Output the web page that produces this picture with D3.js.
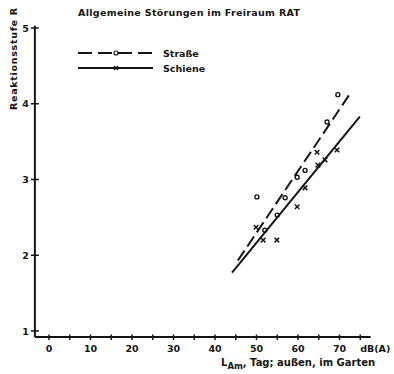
<!DOCTYPE html>
<html><head><meta charset="utf-8">
<script src="https://cdn.jsdelivr.net/npm/d3@7"></script>
<style>
body{margin:0;background:#fff;}
svg text{font-family:"DejaVu Sans",Arial,sans-serif;font-weight:bold;fill:#151515;}
</style></head>
<body><svg id="c" width="394" height="374"></svg>
<script>
const title = "Allgemeine Störungen im Freiraum RAT";
const xTicks = [0,5,10,15,20,25,30,35,40,45,50,55,60,65,70,75];
const xLabels = [0,10,20,30,40,50,60,70];
const yTicks = [1,2,3,4,5];
const seriesNames = ["Straße","Schiene"];
const strasseX = [50.1,52.0,55.0,56.9,59.8,61.7,67.0,69.6];
const strasseY = [2.77,2.33,2.53,2.76,3.03,3.12,3.76,4.12];
const schieneX = [49.9,51.6,54.9,59.8,61.7,64.6,64.8,66.5,69.4];
const schieneY = [2.37,2.20,2.20,2.64,2.89,3.36,3.19,3.26,3.39];
const strasseLine = [[45.5,1.93],[72.5,4.13]];
const schieneLine = [[44.1,1.77],[74.9,3.83]];

const svg = d3.select("#c");
const x = d3.scaleLinear().domain([0,70]).range([49,339.5]);
const y = d3.scaleLinear().domain([1,5]).range([331,28]);
const ink = "#151515";

// axes lines
const x0 = x(-3.4), x1 = x(77.5), yb = y(0.92);
svg.append("line").attr("x1",x0).attr("x2",x1).attr("y1",yb).attr("y2",yb).attr("stroke",ink).attr("stroke-width",2);
svg.append("line").attr("x1",x0).attr("x2",x0).attr("y1",y(5.03)).attr("y2",yb).attr("stroke",ink).attr("stroke-width",2);

// x ticks
svg.selectAll(".xt").data(xTicks).join("line")
  .attr("x1",d=>x(d)).attr("x2",d=>x(d)).attr("y1",yb-2.5).attr("y2",yb+3)
  .attr("stroke",ink).attr("stroke-width",1.5);
svg.selectAll(".xl").data(xLabels).join("text")
  .attr("x",d=>x(d)).attr("y",yb+15).attr("text-anchor","middle").attr("font-size",9.5).text(d=>d);
svg.append("text").attr("x",x(78.6)).attr("y",yb+15).attr("text-anchor","middle").attr("font-size",9.5).text("dB(A)");

// y ticks
svg.selectAll(".yt").data(yTicks).join("line")
  .attr("x1",x0-4).attr("x2",x0+4).attr("y1",d=>y(d)).attr("y2",d=>y(d))
  .attr("stroke",ink).attr("stroke-width",1.5);
svg.selectAll(".yl").data(yTicks).join("text")
  .attr("x",x0-6).attr("y",d=>y(d)+3.5).attr("text-anchor","end").attr("font-size",9.5).text(d=>d);

// titles
svg.append("text").attr("x",78).attr("y",16).attr("font-size",9.5).attr("textLength",222).text(title);
svg.append("text").attr("transform","translate(17,8) rotate(-90)").attr("text-anchor","end")
  .attr("font-size",9.5).attr("textLength",102).text("Reaktionsstufe  R");
const xt = svg.append("text").attr("x",221).attr("y",366).attr("font-size",10);
xt.append("tspan").text("L");
xt.append("tspan").attr("dy",3).attr("font-size",8.5).text("Am");
xt.append("tspan").attr("dy",-3).text(", Tag; außen, im  Garten");

// regression lines
const line = d3.line().x(d=>x(d[0])).y(d=>y(d[1]));
svg.append("path").attr("d",line(strasseLine)).attr("fill","none").attr("stroke",ink)
  .attr("stroke-width",2).attr("stroke-dasharray","12,5");
svg.append("path").attr("d",line(schieneLine)).attr("fill","none").attr("stroke",ink)
  .attr("stroke-width",2);

// points
svg.selectAll(".ps").data(strasseX.map((v,i)=>[v,strasseY[i]])).join("circle")
  .attr("cx",d=>x(d[0])).attr("cy",d=>y(d[1])).attr("r",2)
  .attr("fill","none").attr("stroke",ink).attr("stroke-width",1.4);
svg.selectAll(".pc").data(schieneX.map((v,i)=>[v,schieneY[i]])).join("path")
  .attr("d",d=>{const cx=x(d[0]),cy=y(d[1]),s=2.3;return `M${cx-s},${cy-s}L${cx+s},${cy+s}M${cx-s},${cy+s}L${cx+s},${cy-s}`;})
  .attr("stroke",ink).attr("stroke-width",1.5);

// legend
const lg = [{n:seriesNames[0],y:53,dash:"14,6"},{n:seriesNames[1],y:68,dash:null}];
lg.forEach((l,i)=>{
  svg.append("line").attr("x1",78).attr("x2",153).attr("y1",l.y).attr("y2",l.y)
    .attr("stroke",ink).attr("stroke-width",1.8).attr("stroke-dasharray",l.dash);
  if(i===0){
    svg.append("circle").attr("cx",116).attr("cy",l.y).attr("r",2).attr("fill","#fff").attr("stroke",ink).attr("stroke-width",1.2);
  } else {
    const s=2;
    svg.append("path").attr("d",`M${116-s},${l.y-s}L${116+s},${l.y+s}M${116-s},${l.y+s}L${116+s},${l.y-s}`).attr("stroke",ink).attr("stroke-width",1.2);
  }
  svg.append("text").attr("x",163).attr("y",l.y+3.5).attr("font-size",9.5).text(l.n);
});
</script></body></html>
